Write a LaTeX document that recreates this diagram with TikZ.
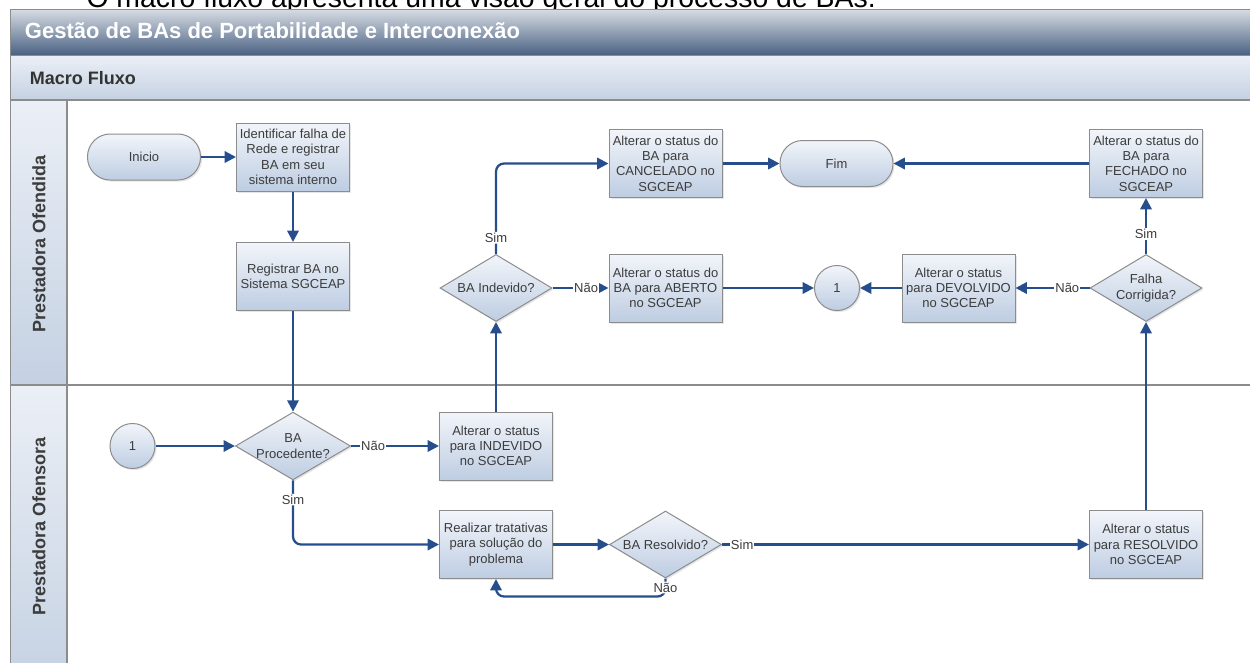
\documentclass[tikz,border=0pt]{standalone}
\usepackage{fontspec}
\setmainfont{Liberation Sans}
\usetikzlibrary{arrows.meta,shapes.geometric,shadows}

\definecolor{fluxoazul}{RGB}{38,78,140}
\definecolor{bordacinza}{RGB}{140,140,140}
\definecolor{textocinza}{RGB}{60,60,60}
\definecolor{caixatopo}{RGB}{242,245,250}
\definecolor{caixabase}{RGB}{190,205,226}
\definecolor{titulotopo}{RGB}{214,219,226}
\definecolor{titulomeio}{RGB}{140,155,178}
\definecolor{titulobase}{RGB}{72,96,130}
\definecolor{faixatopo}{RGB}{235,239,246}
\definecolor{faixabase}{RGB}{196,209,226}

\tikzset{every picture/.style={line width=0.75pt}}
\tikzset{
  caixa/.style={draw=bordacinza, top color=caixatopo, bottom color=caixabase,
    minimum width=84.75pt, minimum height=51pt, inner sep=2pt, align=center,
    text=textocinza, font=\fontsize{9.75}{11.5}\selectfont,
    drop shadow={shadow xshift=1.2pt, shadow yshift=-1.2pt, opacity=0.2}},
  terminal/.style={caixa, rounded corners=17pt, minimum height=34.5pt},
  decisao/.style={caixa, diamond, shape aspect=1.7, minimum width=84pt, minimum height=50.25pt, inner sep=0pt},
  conector/.style={caixa, circle, minimum size=33.75pt, inner sep=0pt},
  fluxo/.style={draw=fluxoazul, line width=1.7pt, -{Triangle[length=8.5pt,width=8.5pt]}},
  rotulo/.style={fill=white, inner sep=0.8pt, text=textocinza, font=\fontsize{9.75}{11}\selectfont},
  faixa/.style={draw=bordacinza, line width=1pt, top color=faixatopo, bottom color=faixabase, inner sep=0pt},
  raia/.style={font=\bfseries\fontsize{13.5}{16}\selectfont, text=textocinza, rotate=90},
  linha/.style={draw=bordacinza, line width=1pt}
}

\begin{document}
\begin{tikzpicture}[x=0.75pt,y=0.75pt,yscale=-1,xscale=1]
\useasboundingbox (0,0) rectangle (1250,662);

% Text Node (caption, cut at the top)
\node [anchor=base west, inner sep=0pt, font=\fontsize{21.3}{25}\selectfont] (legenda) at (86,7) {O macro fluxo apresenta uma visão geral do processo de BAs.};

%Shape: title bars
\node [faixa, top color=titulotopo, middle color=titulomeio, bottom color=titulobase, anchor=north west, minimum width=937.5pt, minimum height=34.5pt] (barratitulo) at (10,9) {};
\node [faixa, anchor=north west, minimum width=937.5pt, minimum height=33.75pt] (barramacro) at (10,55) {};
% Text Node
\node [anchor=west, text=white, font=\bfseries\fontsize{16.5}{19}\selectfont] (titulo) at (20,31) {Gestão de BAs de Portabilidade e Interconexão};
% Text Node
\node [anchor=west, text=black!80, font=\bfseries\fontsize{13.5}{16}\selectfont] (macro) at (25,78) {Macro Fluxo};

%Shape: lanes
\node [faixa, anchor=north west, minimum width=42.75pt, minimum height=213.75pt] (raiaofendida) at (10,100) {};
\node [faixa, anchor=north west, minimum width=42.75pt, minimum height=230pt] (raiaofensora) at (10,385) {};
\draw [linha] (10,100) -- (1260,100);
\draw [linha] (10,385) -- (1260,385);
\draw [linha] (67,100) -- (67,700);
% Text Node
\node [raia] (ofendida) at (39,244) {Prestadora Ofendida};
\node [raia] (ofensora) at (39,526) {Prestadora Ofensora};

%Shape: Prestadora Ofendida
\node [terminal] (inicio) at (144,157) {Inicio};
\node [caixa] (identificar) at (293,157) {Identificar falha de\\Rede e registrar\\BA em seu\\sistema interno};
\node [caixa] (registrar) at (293,276.5) {Registrar BA no\\Sistema SGCEAP};
\node [decisao] (baindevido) at (496,288) {BA Indevido?};
\node [caixa] (cancelado) at (665.5,163.5) {Alterar o status do\\BA para\\CANCELADO no\\SGCEAP};
\node [caixa] (aberto) at (665.5,288) {Alterar o status do\\BA para ABERTO\\no SGCEAP};
\node [terminal] (fim) at (836.5,163.5) {Fim};
\node [conector] (conectorA) at (837,288) {1};
\node [caixa] (devolvido) at (958.5,288) {Alterar o status\\para DEVOLVIDO\\no SGCEAP};
\node [decisao] (falha) at (1146,288) {Falha\\Corrigida?};
\node [caixa] (fechado) at (1146,163.5) {Alterar o status do\\BA para\\FECHADO no\\SGCEAP};

%Shape: Prestadora Ofensora
\node [conector] (conectorB) at (132.5,446) {1};
\node [decisao] (procedente) at (293,446) {BA\\Procedente?};
\node [caixa] (indevido) at (496,446) {Alterar o status\\para INDEVIDO\\no SGCEAP};
\node [caixa] (tratativas) at (496,544.5) {Realizar tratativas\\para solução do\\problema};
\node [decisao] (baresolvido) at (665.5,544.5) {BA Resolvido?};
\node [caixa] (resolvido) at (1146,544.5) {Alterar o status\\para RESOLVIDO\\no SGCEAP};

%Straight Lines
\draw [fluxo] (inicio) -- (identificar);
\draw [fluxo] (identificar) -- (registrar);
\draw [fluxo] (registrar) -- (procedente);
\draw [fluxo] (conectorB) -- (procedente);
\draw [fluxo] (procedente) -- node [rotulo, pos=0.25] {Não} (indevido);
\draw [fluxo, rounded corners=6pt] (procedente.south) |- node [rotulo, pos=0.15] {Sim} (tratativas.west);
\draw [fluxo] (indevido) -- (baindevido);
\draw [fluxo, rounded corners=6pt] (baindevido.north) |- node [rotulo, pos=0.09] {Sim} (cancelado.west);
\draw [fluxo] (baindevido) -- node [rotulo, pos=0.6] {Não} (aberto);
\draw [fluxo] (cancelado) -- (fim);
\draw [fluxo] (aberto) -- (conectorA);
\draw [fluxo] (tratativas) -- (baresolvido);
\draw [fluxo] (baresolvido) -- node [rotulo, pos=0.055] {Sim} (resolvido);
\draw [fluxo, rounded corners=6pt] (baresolvido.south) -- node [rotulo, pos=0.5] {Não} ++(0,18) -| (tratativas.south);
\draw [fluxo] (resolvido) -- (falha);
\draw [fluxo] (falha) -- node [rotulo, pos=0.36] {Sim} (fechado);
\draw [fluxo] (falha) -- node [rotulo, pos=0.3] {Não} (devolvido);
\draw [fluxo] (devolvido) -- (conectorA);
\draw [fluxo] (fechado) -- (fim);

\end{tikzpicture}
\end{document}
